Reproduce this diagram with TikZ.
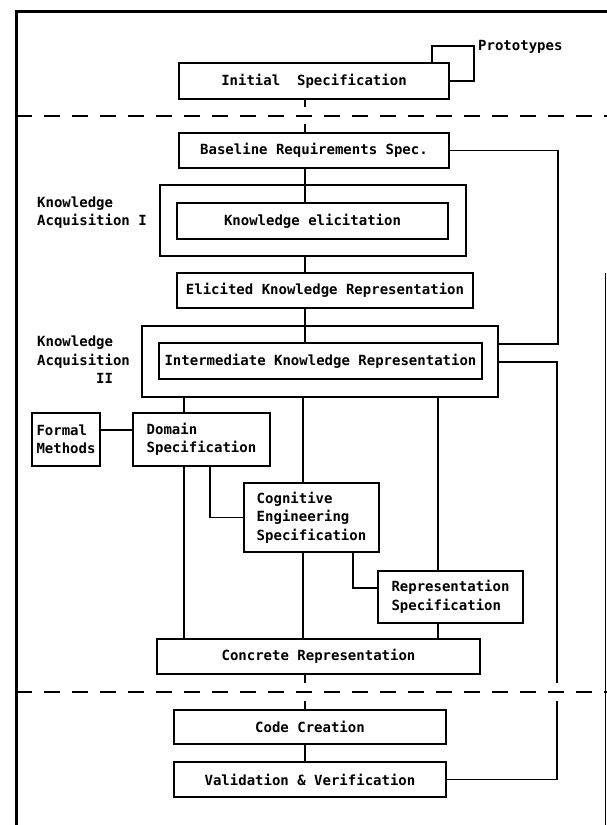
\documentclass[tikz,border=0pt]{standalone}
\usepackage{fontspec}
\setmonofont{DejaVu Sans Mono}
\begin{document}
\begin{tikzpicture}[x=1pt,y=-1pt,
  lbl/.style={font=\ttfamily\bfseries\fontsize{14}{18.5}\selectfont, inner sep=0pt, align=left},
  box/.style={lbl, draw, line width=1.8pt},
  conn/.style={line width=1.4pt},
  phase/.style={line width=1.8pt, dash pattern=on 16pt off 12pt},
  frame/.style={line width=3pt}]
\useasboundingbox (0,0) rectangle (607,825);

% outer frame (open at the bottom)
\coordinate (fBL) at (16,825);
\coordinate (fTL) at (16,11);
\coordinate (fTR) at (607,11);
\coordinate (fRt) at (605.5,273);
\coordinate (fRb) at (605.5,825);
\draw[frame] (fBL) -- (fTL) -- (fTR);
\draw[line width=1.5pt] (fRt) -- (fRb);

% phase separators
\coordinate (s1a) at (16,116);  \coordinate (s1b) at (607,116);
\coordinate (s2a) at (16,692);  \coordinate (s2b) at (607,692);
\draw[phase] (s1a) -- (s1b);
\draw[phase] (s2a) -- (s2b);

% process boxes
\node[box, minimum width=270, minimum height=36] (init) at (314,81) {Initial\ \ Specification};
\node[box, minimum width=270, minimum height=35] (base) at (314,150.5) {Baseline Requirements Spec.};
\node[box, minimum width=306, minimum height=71] (ka1o) at (313,220.5) {};
\node[box, minimum width=271, minimum height=36] (ka1i) at (312.5,221) {Knowledge elicitation};
\node[box, minimum width=296, minimum height=35] (elic) at (325,290.5) {Elicited Knowledge Representation};
\node[box, minimum width=356, minimum height=71] (ka2o) at (320,361.5) {};
\node[box, minimum width=323, minimum height=36] (ka2i) at (320.5,361) {Intermediate Knowledge Representation};
\node[box, minimum width=68, minimum height=53] (formal) at (66,439.5) {Formal\\Methods};
\node[box, minimum width=137, minimum height=53] (domain) at (201.5,439.5) {Domain\\Specification};
\node[box, minimum width=135, minimum height=69] (cog) at (311.5,517.5) {Cognitive\\Engineering\\Specification};
\node[box, minimum width=145, minimum height=52] (rep) at (450.5,597) {Representation\\Specification};
\node[box, minimum width=323, minimum height=35] (concrete) at (318.5,656.5) {Concrete Representation};
\node[box, minimum width=272, minimum height=34] (code) at (310,727) {Code Creation};
\node[box, minimum width=272, minimum height=35] (valid) at (310,779.5) {Validation \& Verification};

% side labels
\node[lbl, anchor=west] (ka1lab) at (37,212.5) {Knowledge\\Acquisition I};
\node[lbl, anchor=west] (ka2lab) at (37,361.5) {Knowledge\\Acquisition\\\phantom{Acquisi}II};
\node[lbl, anchor=west] (proto) at (478,47) {Prototypes};

% guide coordinates for the connectors
\coordinate (axis) at (305,0);
\coordinate (colL) at (184,0);
\coordinate (colM) at (303,0);
\coordinate (colR) at (438,0);
\coordinate (dcX) at (210,0);
\coordinate (crX) at (353,0);
\coordinate (crY) at (0,588);
\coordinate (fmY) at (0,430);
\coordinate (rx) at (558,0);
\coordinate (fb1) at (0,344);
\coordinate (fb2) at (0,362);
\coordinate (pl) at (432,0);
\coordinate (pt) at (0,46);
\coordinate (pr) at (474,0);
\coordinate (pb) at (0,81);
\coordinate (cutA1) at (305,107);
\coordinate (cutA2) at (305,124);
\coordinate (cutB1) at (305,683);
\coordinate (cutB2) at (305,701);
\coordinate (cutC1) at (557,683);
\coordinate (cutC2) at (557,701);

% main spine
\draw[conn] (init.south -| axis) -- (cutA1);
\draw[conn] (cutA2) -- (base.north -| axis);
\draw[conn] (base.south -| axis) -- (ka1i.north -| axis);
\draw[conn] (ka1o.south -| axis) -- (elic.north -| axis);
\draw[conn] (elic.south -| axis) -- (ka2i.north -| axis);
\draw[conn] (concrete.south -| axis) -- (cutB1);
\draw[conn] (cutB2) -- (code.north -| axis);
\draw[conn] (code.south -| axis) -- (valid.north -| axis);

% specification columns
\draw[conn] (ka2o.south -| colL) -- (domain.north -| colL);
\draw[conn] (domain.south -| colL) -- (concrete.north -| colL);
\draw[conn] (ka2o.south -| colM) -- (cog.north -| colM);
\draw[conn] (cog.south -| colM) -- (concrete.north -| colM);
\draw[conn] (ka2o.south -| colR) -- (rep.north -| colR);
\draw[conn] (rep.south -| colR) -- (concrete.north -| colR);
\draw[conn] (formal.east |- fmY) -- (domain.west |- fmY);
\draw[conn] (domain.south -| dcX) |- (cog.west);
\draw[conn] (cog.south -| crX) |- (rep.west |- crY);

% feedback loops on the right
\draw[conn] (base.east) -| (rx |- fb1) -- (ka2o.east |- fb1);
\draw[conn] (ka2o.east |- fb2) -| (cutC1);
\draw[conn] (cutC2) |- (valid.east);

% prototyping loop
\draw[conn] (init.north -| pl) |- (pr |- pt) |- (init.east |- pb);
\end{tikzpicture}
\end{document}
